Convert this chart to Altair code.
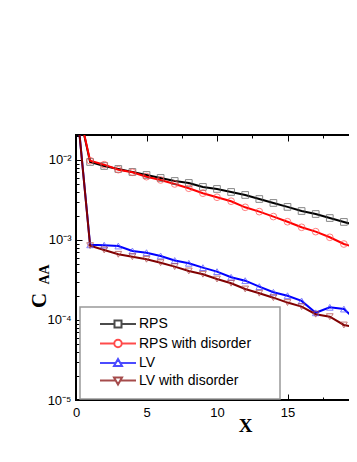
import altair as alt
import pandas as pd

# ---------------- data ----------------
x_vals = list(range(0, 21))
rps = [0.06, 0.00944, 0.00841, 0.00772, 0.00708, 0.00649, 0.00596, 0.00546, 0.00516, 0.0046,
       0.00434, 0.00398, 0.00365, 0.00325, 0.0029, 0.00259, 0.0023, 0.00211, 0.00188, 0.00168, 0.0015]
rps_dis = [0.06, 0.0098, 0.00873, 0.00756, 0.00702, 0.00618, 0.00562, 0.00501, 0.00443, 0.00384,
           0.00342, 0.00305, 0.00256, 0.00226, 0.00196, 0.00169, 0.00144, 0.00127, 0.00108, 0.00089, 0.00079]
lv = [0.06, 0.00087, 0.00086, 0.00084, 0.000729, 0.000694, 0.000631, 0.000554, 0.000511, 0.000451,
      0.000402, 0.000342, 0.00031, 0.000261, 0.000222, 0.000201, 0.000173, 0.000123, 0.000144, 0.000137, 0.0000944]
lv_dis = [0.06, 0.000849, 0.00075, 0.000662, 0.000618, 0.000574, 0.00052, 0.000464, 0.00041, 0.000373,
          0.000325, 0.000288, 0.000244, 0.000216, 0.00019, 0.000165, 0.000147, 0.000118, 0.00011, 0.0000866, 0.0000794]

series_names = ["RPS", "RPS with disorder", "LV", "LV with disorder"]
series_values = [rps, rps_dis, lv, lv_dis]
line_colors = ["#000000", "#ff0000", "#0000ff", "#800000"]
marker_colors = ["#555555", "#ff4a4a", "#4a4aff", "#a83c3c"]
marker_shapes = ["square", "circle", "triangle-up", "triangle-down"]
legend_shapes = [
    "M-3.6,0H-0.7M0.7,0H3.6M-0.7,-0.7H0.7V0.7H-0.7Z",
    "M-3.6,0H-0.75M0.75,0H3.6M-0.75,0A0.75,0.75 0 1,0 0.75,0A0.75,0.75 0 1,0 -0.75,0Z",
    "M-3.6,0H-0.46M0.46,0H3.6M0,-0.8L0.8,0.6H-0.8Z",
    "M-3.6,0H-0.46M0.46,0H3.6M0,0.8L0.8,-0.6H-0.8Z",
]

x_major = [0, 5, 10, 15, 20]
x_minor = [0, 2.5, 5, 7.5, 10, 12.5, 15, 17.5, 20]
y_major = [1e-5, 1e-4, 1e-3, 1e-2]
y_minor = [m * 10.0 ** k for k in (-5, -4, -3) for m in range(1, 10)] + [0.01, 0.02]

rows = []
for name, vals in zip(series_names, series_values):
    for xv, v in zip(x_vals, vals):
        rows.append({"x": xv, "value": v, "series": name})
df = pd.DataFrame(rows)

W, H = 282, 265
x_scale = alt.Scale(domain=[0, 20], nice=False, zero=False)
y_scale = alt.Scale(type="log", domain=[1e-5, 0.0205], nice=False)

sup_expr = "'10' + ['\u207b\u2075','\u207b\u2074','\u207b\u00b3','\u207b\u00b2'][round(log(datum.value)/LN10) + 5]"
y_major_test = "abs(log(datum.value)/LN10 - round(log(datum.value)/LN10)) < 0.001"
x_major_test = "datum.value % 5 == 0"

serif = "Liberation Serif"
sans = "Liberation Sans"

base = alt.Chart(df)

lines = base.mark_line(clip=True, strokeWidth=2).encode(
    x=alt.X("x:Q", scale=x_scale, axis=alt.Axis(
        values=x_major, ticks=False, domain=False, grid=False, labelFont=sans, labelFontSize=13,
        labelColor="black", labelPadding=6, labelFlush=False,
        title="X", titleFont=serif, titleFontSize=19, titleFontWeight="bold", titleColor="black",
        titleX=169, titleY=31, titleBaseline="alphabetic", titleAlign="center")),
    y=alt.Y("value:Q", scale=y_scale, axis=alt.Axis(
        values=y_major, labelExpr=sup_expr, ticks=False, domain=False, grid=False,
        labelFont=sans, labelFontSize=13, labelColor="black", labelPadding=5,
        title="C", titleFont=serif, titleFontSize=21, titleFontWeight="bold", titleColor="black",
        titleX=-31, titleY=165, titleAngle=270, titleBaseline="alphabetic", titleAlign="center")),
    color=alt.Color("series:N", scale=alt.Scale(domain=series_names, range=line_colors), legend=None),
)

points = base.mark_point(filled=False, size=45, strokeWidth=1, clip=True).encode(
    x=alt.X("x:Q", scale=x_scale, axis=None),
    y=alt.Y("value:Q", scale=y_scale, axis=None),
    stroke=alt.Stroke("series:N", scale=alt.Scale(domain=series_names, range=marker_colors), legend=None),
    shape=alt.Shape("series:N", scale=alt.Scale(domain=series_names, range=marker_shapes), legend=None),
).transform_filter("datum.x >= 1")

tick_common = dict(labels=False, domain=False, grid=False, tickColor="black", tickWidth=1)
x_tick_size = {"condition": {"test": x_major_test, "value": 6}, "value": 3}
y_tick_size = {"condition": {"test": y_major_test, "value": 6}, "value": 3}

ticks_a = base.mark_point(opacity=0).encode(
    x=alt.X("x:Q", scale=x_scale, axis=alt.Axis(orient="top", offset=-H, values=x_minor,
                                                tickSize=x_tick_size, title=None, **tick_common)),
    y=alt.Y("value:Q", scale=y_scale, axis=alt.Axis(
        orient="right", offset=-W, values=y_minor, tickSize=y_tick_size,
        title="AA", titleFont=serif, titleFontSize=14, titleFontWeight="bold", titleColor="black",
        titleX=-28, titleY=139, titleAngle=270, titleBaseline="alphabetic", titleAlign="center",
        **tick_common)),
).transform_filter("datum.x >= 1")

ticks_b = base.mark_point(opacity=0).encode(
    x=alt.X("x:Q", scale=x_scale, axis=alt.Axis(orient="bottom", offset=-H, values=x_minor,
                                                tickSize=x_tick_size, title=None, **tick_common)),
    y=alt.Y("value:Q", scale=y_scale, axis=alt.Axis(orient="left", offset=-W, values=y_minor,
                                                    tickSize=y_tick_size, title=None, **tick_common)),
).transform_filter("datum.x >= 1")

legend_kw = dict(
    orient="none", legendX=4, legendY=172, padding=10, rowPadding=3.5, symbolSize=100,
    symbolOffset=21, labelOffset=14, labelFont=sans, labelFontSize=14, labelColor="black",
    symbolStrokeWidth=2, strokeColor="#999999", fillColor="white",
    title=" ", titleOrient="right", titlePadding=19, titleFontSize=4,
)

legend_layer = base.mark_point(filled=False, strokeWidth=2).encode(
    color=alt.Color("series:N", scale=alt.Scale(domain=series_names, range=line_colors),
                    legend=alt.Legend(**legend_kw)),
    shape=alt.Shape("series:N", scale=alt.Scale(domain=series_names, range=legend_shapes),
                    legend=alt.Legend(**legend_kw)),
).transform_filter("datum.x < 0")

chart = alt.layer(lines, points, ticks_a, ticks_b, legend_layer).resolve_scale(
    color="independent", shape="independent"
).resolve_axis(
    x="independent", y="independent"
).properties(
    width=W, height=H, autosize="none",
    padding={"left": 68, "top": 127, "right": -9, "bottom": 40},
).configure_view(
    stroke="black", strokeWidth=2
).configure_legend(
    strokeWidth=1.5
)

chart.save("out.html", embed_options={"renderer": "svg", "actions": False})
